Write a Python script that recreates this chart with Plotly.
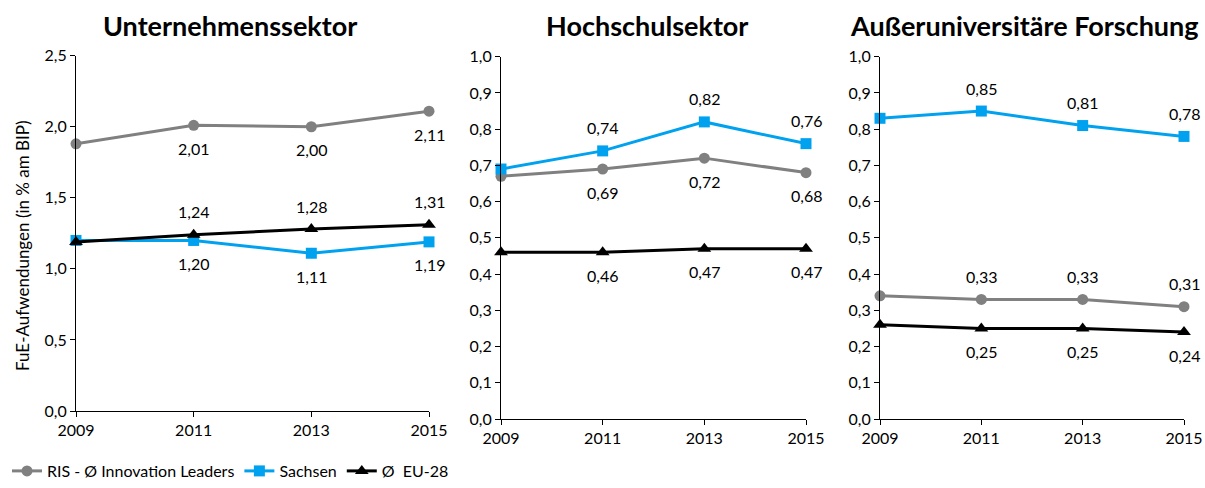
import plotly.graph_objects as go

years = ["2009", "2011", "2013", "2015"]

# Unternehmenssektor
unt_ris = [1.88, 2.01, 2.00, 2.11]
unt_sachsen = [1.20, 1.20, 1.11, 1.19]
unt_eu = [1.19, 1.24, 1.28, 1.31]

# Hochschulsektor
hoch_ris = [0.67, 0.69, 0.72, 0.68]
hoch_sachsen = [0.69, 0.74, 0.82, 0.76]
hoch_eu = [0.46, 0.46, 0.47, 0.47]

# Außeruniversitäre Forschung
auf_ris = [0.34, 0.33, 0.33, 0.31]
auf_sachsen = [0.83, 0.85, 0.81, 0.78]
auf_eu = [0.26, 0.25, 0.25, 0.24]

series_names = ["RIS - Ø Innovation Leaders", "Sachsen", "Ø  EU-28"]
panel_titles = ["Unternehmenssektor", "Hochschulsektor", "Außeruniversitäre Forschung"]
y_title = "FuE-Aufwendungen (in % am BIP)"

panels = [
    (unt_ris, unt_sachsen, unt_eu),
    (hoch_ris, hoch_sachsen, hoch_eu),
    (auf_ris, auf_sachsen, auf_eu),
]
# label placement per panel and series: +1 above, -1 below
label_side = [
    (-1, -1, +1),
    (-1, +1, -1),
    (+1, +1, -1),
]

FONT = "Lato"
GRAY = "#808080"
BLUE = "#00A2F0"
BLACK = "#000000"
colors = [GRAY, BLUE, BLACK]
symbols = ["circle", "square", "triangle-up"]

W, H = 1205, 488
x_dom = [(76 / W, 429 / W), (501 / W, 806 / W), (880 / W, 1184 / W)]
y_dom = [(1 - 411 / H, 1 - 55.7 / H), (1 - 419 / H, 1 - 56.7 / H), (1 - 419 / H, 1 - 56.7 / H)]
y_ranges = [(0, 2.5, 0.5), (0, 1.0, 0.1), (0, 1.0, 0.1)]

fig = go.Figure()
annotations = []

for p, data in enumerate(panels):
    xa = "x" if p == 0 else f"x{p + 1}"
    ya = "y" if p == 0 else f"y{p + 1}"
    for s, vals in enumerate(data):
        fig.add_trace(go.Scatter(
            x=years, y=vals, xaxis=xa, yaxis=ya,
            mode="lines+markers",
            name=series_names[s],
            legendgroup=series_names[s],
            showlegend=(p == 0),
            line=dict(color=colors[s], width=3),
            marker=dict(symbol=symbols[s], size=11 if s != 2 else 12, color=colors[s]),
            cliponaxis=False,
        ))
        side = label_side[p][s]
        for i in range(1, len(years)):
            annotations.append(dict(
                x=i, y=vals[i], xref=xa, yref=ya,
                text=f"{vals[i]:.2f}".replace(".", ","),
                showarrow=False, yshift=23 * side,
                xanchor="center", yanchor="middle",
                font=dict(family=FONT, size=16, color="#000000"),
            ))

layout_axes = {}
for p in range(3):
    xk = "xaxis" if p == 0 else f"xaxis{p + 1}"
    yk = "yaxis" if p == 0 else f"yaxis{p + 1}"
    lo, hi, dt = y_ranges[p]
    layout_axes[xk] = dict(
        domain=list(x_dom[p]), anchor="y" if p == 0 else f"y{p + 1}",
        type="category", range=[0, 3], automargin=False,
        showline=True, linecolor="#000000", linewidth=1,
        ticks="outside", ticklen=5, tickcolor="#000000",
        showgrid=False, zeroline=False,
        tickfont=dict(family=FONT, size=16, color="#000000"),
    )
    layout_axes[yk] = dict(
        domain=list(y_dom[p]), anchor="x" if p == 0 else f"x{p + 1}",
        range=[lo, hi], dtick=dt, tick0=0, tickformat=".1f", automargin=False,
        showline=True, linecolor="#000000", linewidth=1,
        ticks="outside", ticklen=5, tickcolor="#000000",
        showgrid=False, zeroline=False,
        tickfont=dict(family=FONT, size=16, color="#000000"),
    )

# panel headings
title_x = [230, 647, 1024]
for p in range(3):
    annotations.append(dict(
        x=title_x[p] / W, y=1 - 25 / H, xref="paper", yref="paper",
        text=f"<b>{panel_titles[p]}</b>", showarrow=False,
        xanchor="center", yanchor="middle",
        font=dict(family=FONT, size=27, color="#000000"),
    ))

# vertical axis title for the first panel
annotations.append(dict(
    x=23 / W, y=1 - 246 / H, xref="paper", yref="paper",
    text=y_title, textangle=-90, showarrow=False,
    xanchor="center", yanchor="middle",
    font=dict(family=FONT, size=17, color="#000000"),
))

fig.update_layout(
    width=W, height=H,
    margin=dict(l=0, r=0, t=0, b=0),
    paper_bgcolor="#ffffff", plot_bgcolor="#ffffff",
    separators=",.",
    font=dict(family=FONT, size=16, color="#000000"),
    annotations=annotations,
    legend=dict(
        orientation="h", x=7 / W, xanchor="left", y=0, yanchor="bottom",
        font=dict(family=FONT, size=16, color="#000000"),
        itemwidth=30, tracegroupgap=0,
        bgcolor="rgba(0,0,0,0)",
    ),
    **layout_axes,
)

fig.write_html("out.html")
